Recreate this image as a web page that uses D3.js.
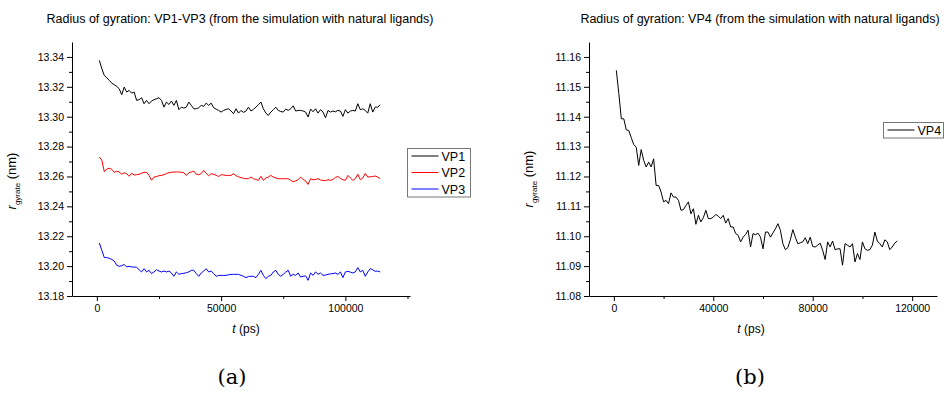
<!DOCTYPE html>
<html>
<head>
<meta charset="utf-8">
<script src="https://cdn.jsdelivr.net/npm/d3@7"></script>
<style>
body { margin: 0; background: #fff; }
svg { display: block; font-family: "Liberation Sans", Arial, sans-serif; }
</style>
</head>
<body>
<svg id="fig" width="948" height="393"></svg>
<script>
// sampling grid: one frame every 1000 ps
const timePs = d3.range(1000, 115000, 1000);

const vp1 = [13.3377,13.3321,13.3276,13.3261,13.3243,13.3225,13.3214,13.3203,13.3187,13.3147,
13.3198,13.3165,13.3176,13.3158,13.3165,13.3109,13.3114,13.3127,13.3087,13.3109,
13.3087,13.3105,13.3114,13.3120,13.3127,13.3109,13.3064,13.3098,13.3082,13.3105,
13.3076,13.3109,13.3047,13.3064,13.3058,13.3064,13.3098,13.3076,13.3053,13.3053,
13.3060,13.3076,13.3069,13.3091,13.3076,13.3091,13.3060,13.3051,13.3042,13.3031,
13.3042,13.3049,13.3053,13.3038,13.3020,13.3053,13.3024,13.3042,13.3029,13.3038,
13.3064,13.3038,13.3049,13.3064,13.3080,13.3098,13.3053,13.3024,13.3009,13.3031,
13.3047,13.3064,13.3042,13.3035,13.3031,13.3051,13.3042,13.3053,13.3073,13.3038,
13.3042,13.3042,13.3038,13.3031,13.2998,13.3051,13.3033,13.3053,13.3024,13.3047,
13.3031,13.2993,13.3042,13.3031,13.3038,13.3033,13.3042,13.3038,13.3002,13.3047,
13.3024,13.3038,13.3042,13.3038,13.3087,13.3047,13.3053,13.3042,13.3024,13.3087,
13.3031,13.3064,13.3064,13.3080];

const vp2 = [13.2730,13.2710,13.2632,13.2650,13.2655,13.2648,13.2628,13.2635,13.2630,13.2615,
13.2625,13.2618,13.2601,13.2622,13.2610,13.2612,13.2615,13.2622,13.2628,13.2628,
13.2607,13.2575,13.2596,13.2600,13.2605,13.2607,13.2612,13.2620,13.2625,13.2628,
13.2630,13.2630,13.2630,13.2628,13.2625,13.2607,13.2625,13.2630,13.2636,13.2615,
13.2612,13.2619,13.2641,13.2620,13.2605,13.2619,13.2615,13.2608,13.2600,13.2612,
13.2610,13.2607,13.2607,13.2607,13.2619,13.2605,13.2598,13.2592,13.2588,13.2585,
13.2585,13.2596,13.2585,13.2580,13.2574,13.2601,13.2574,13.2590,13.2596,13.2607,
13.2596,13.2590,13.2585,13.2585,13.2585,13.2585,13.2585,13.2574,13.2565,13.2570,
13.2578,13.2596,13.2580,13.2570,13.2547,13.2585,13.2578,13.2580,13.2585,13.2576,
13.2574,13.2572,13.2578,13.2574,13.2580,13.2594,13.2600,13.2587,13.2578,13.2574,
13.2607,13.2590,13.2574,13.2585,13.2615,13.2578,13.2590,13.2620,13.2596,13.2598,
13.2600,13.2603,13.2596,13.2585];

const vp3 = [13.2155,13.2106,13.2057,13.2057,13.2052,13.2045,13.2034,13.2005,13.1999,13.2003,
13.2011,13.1994,13.1999,13.1994,13.1994,13.1992,13.1976,13.1961,13.1983,13.1961,
13.1972,13.1950,13.1961,13.1976,13.1967,13.1961,13.1967,13.1961,13.1967,13.1954,
13.1932,13.1961,13.1945,13.1950,13.1952,13.1956,13.1961,13.1972,13.1972,13.1950,
13.1932,13.1954,13.1967,13.1983,13.1961,13.1967,13.1950,13.1932,13.1938,13.1938,
13.1938,13.1938,13.1942,13.1945,13.1945,13.1945,13.1945,13.1938,13.1932,13.1923,
13.1930,13.1932,13.1932,13.1923,13.1945,13.1972,13.1938,13.1916,13.1932,13.1938,
13.1961,13.1972,13.1945,13.1932,13.1945,13.1960,13.1972,13.1932,13.1945,13.1938,
13.1954,13.1927,13.1932,13.1935,13.1905,13.1954,13.1938,13.1961,13.1945,13.1954,
13.1938,13.1940,13.1945,13.1948,13.1950,13.1954,13.1945,13.1961,13.1923,13.1961,
13.1965,13.1960,13.1954,13.1961,13.1990,13.1961,13.1972,13.1932,13.1961,13.1983,
13.1975,13.1965,13.1967,13.1961];

const vp4 = [11.1555,11.1477,11.1393,11.1393,11.1356,11.1354,11.1330,11.1307,11.1298,11.1237,
11.1290,11.1254,11.1232,11.1248,11.1232,11.1259,11.1170,11.1170,11.1148,11.1115,
11.1120,11.1109,11.1145,11.1131,11.1131,11.1120,11.1087,11.1089,11.1103,11.1115,
11.1075,11.1092,11.1040,11.1070,11.1048,11.1062,11.1087,11.1059,11.1059,11.1064,
11.1073,11.1067,11.1059,11.1070,11.1044,11.1059,11.1031,11.1031,11.1009,11.1003,
11.0981,11.0997,11.1006,11.1020,11.0964,11.1009,11.1005,11.1010,11.0997,11.0958,
11.1014,11.1014,11.0997,11.1011,11.1025,11.1042,11.1020,11.0975,11.0955,11.0962,
11.0988,11.1022,11.0997,11.0975,11.0978,11.0981,11.0995,11.0975,11.0997,11.0966,
11.0964,11.0970,11.0977,11.0953,11.0922,11.0981,11.0964,11.0984,11.0955,11.0958,
11.0958,11.0903,11.0975,11.0970,11.0964,11.0975,11.0914,11.0942,11.0922,11.0981,
11.0958,11.0953,11.0955,11.0970,11.1014,11.0984,11.0975,11.0964,11.0988,11.0981,
11.0955,11.0964,11.0977,11.0984];

const namesA = ["VP1", "VP2", "VP3"];
const namesB = ["VP4"];
const colorsA = ["#000000", "#ff0000", "#0000ff"];

const yTicksA = [13.18, 13.20, 13.22, 13.24, 13.26, 13.28, 13.30, 13.32, 13.34];
const yMinorA = [13.19, 13.21, 13.23, 13.25, 13.27, 13.29, 13.31, 13.33];
const xTicksA = [0, 50000, 100000];
const xMinorA = [25000, 75000, 125000];

const yTicksB = [11.08, 11.09, 11.10, 11.11, 11.12, 11.13, 11.14, 11.15, 11.16];
const yMinorB = [11.085, 11.095, 11.105, 11.115, 11.125, 11.135, 11.145, 11.155];
const xTicksB = [0, 40000, 80000, 120000];
const xMinorB = [20000, 60000, 100000];

const svg = d3.select("#fig");

function drawPanel(cfg) {
    const x = d3.scaleLinear().domain(cfg.xDomain).range(cfg.xRange);
    const y = d3.scaleLinear().domain(cfg.yDomain).range([296, 42]);
    const g = svg.append("g");

    // minor ticks first, then major axis on top
    g.append("g").attr("transform", `translate(0,296)`)
        .call(d3.axisBottom(x).tickValues(cfg.xMinor).tickSize(3).tickFormat(""))
        .call(a => a.select(".domain").remove());
    g.append("g").attr("transform", `translate(${cfg.xRange[0]},0)`)
        .call(d3.axisLeft(y).tickValues(cfg.yMinor).tickSize(3).tickFormat(""))
        .call(a => a.select(".domain").remove());

    g.append("g").attr("transform", `translate(0,296)`)
        .call(d3.axisBottom(x).tickValues(cfg.xTicks).tickSize(5).tickPadding(4).tickSizeOuter(0).tickFormat(d3.format("d")));
    g.append("g").attr("transform", `translate(${cfg.xRange[0]},0)`)
        .call(d3.axisLeft(y).tickValues(cfg.yTicks).tickSize(5).tickPadding(3).tickSizeOuter(0).tickFormat(d3.format(cfg.yFormat)));
    g.selectAll(".tick text").attr("font-family", "Liberation Sans, Arial, sans-serif").attr("font-size", 10.5).attr("fill", "#000");
    g.selectAll(".tick line, .domain").attr("stroke", "#000");

    const line = d3.line().x((d, i) => x(timePs[i])).y(d => y(d));
    cfg.series.forEach((s, k) => {
        g.append("path").datum(s)
            .attr("fill", "none")
            .attr("stroke", cfg.colors[k])
            .attr("stroke-width", 1)
            .attr("stroke-linejoin", "round")
            .attr("d", line);
    });

    // title
    g.append("text").attr("x", cfg.titleX).attr("y", 23)
        .attr("text-anchor", "middle").attr("font-size", 12.5).text(cfg.title);

    // x label
    const xl = g.append("text").attr("x", cfg.xLabelX).attr("y", 333)
        .attr("text-anchor", "middle").attr("font-size", 12);
    xl.append("tspan").attr("font-style", "italic").text("t");
    xl.append("tspan").text(" (ps)");

    // y label
    const yl = g.append("text")
        .attr("transform", `translate(${cfg.yLabelX},${cfg.yLabelY}) rotate(-90)`)
        .attr("text-anchor", "middle").attr("font-size", 13);
    yl.append("tspan").attr("font-style", "italic").text("r");
    yl.append("tspan").attr("font-size", 8).attr("dy", 3.5).text("gyrate");
    yl.append("tspan").attr("dy", -3.5).text(" (nm)");

    // legend
    const lg = g.append("g").attr("transform", `translate(${cfg.legend[0]},${cfg.legend[1]})`);
    const rowH = 16.5;
    lg.append("rect").attr("x", 0).attr("y", 0)
        .attr("width", cfg.legendW).attr("height", cfg.names.length * rowH - 1)
        .attr("fill", "#fff").attr("stroke", "#777").attr("stroke-width", 1);
    cfg.names.forEach((n, k) => {
        const cy = 7.5 + k * rowH;
        lg.append("line").attr("x1", 4).attr("x2", 31).attr("y1", cy).attr("y2", cy)
            .attr("stroke", cfg.colors[k]).attr("stroke-width", 1);
        lg.append("text").attr("x", 34).attr("y", cy + 4.5).attr("font-size", 12.5).text(n);
    });

    // panel label
    svg.append("text").attr("x", cfg.panelX).attr("y", 384)
        .attr("text-anchor", "middle")
        .attr("font-family", "DejaVu Serif, Liberation Serif, serif")
        .attr("font-size", 21).text(cfg.panel);
}

drawPanel({
    xDomain: [-10000, 126000], xRange: [72, 410],
    yDomain: [13.18, 13.35], yFormat: ".2f",
    xTicks: xTicksA, xMinor: xMinorA, yTicks: yTicksA, yMinor: yMinorA,
    series: [vp1, vp2, vp3], names: namesA, colors: colorsA,
    title: "Radius of gyration: VP1-VP3 (from the simulation with natural ligands)",
    titleX: 240, xLabelX: 246, yLabelX: 16, yLabelY: 181,
    legend: [407.5, 148.5], legendW: 63, panel: "(a)", panelX: 232
});

drawPanel({
    xDomain: [-10000, 130000], xRange: [589, 937],
    yDomain: [11.08, 11.165], yFormat: ".2f",
    xTicks: xTicksB, xMinor: xMinorB, yTicks: yTicksB, yMinor: yMinorB,
    series: [vp4], names: namesB, colors: ["#000000"],
    title: "Radius of gyration: VP4 (from the simulation with natural ligands)",
    titleX: 760, xLabelX: 751, yLabelX: 533, yLabelY: 179,
    legend: [883.5, 122.5], legendW: 60, panel: "(b)", panelX: 750
});
</script>
</body>
</html>
